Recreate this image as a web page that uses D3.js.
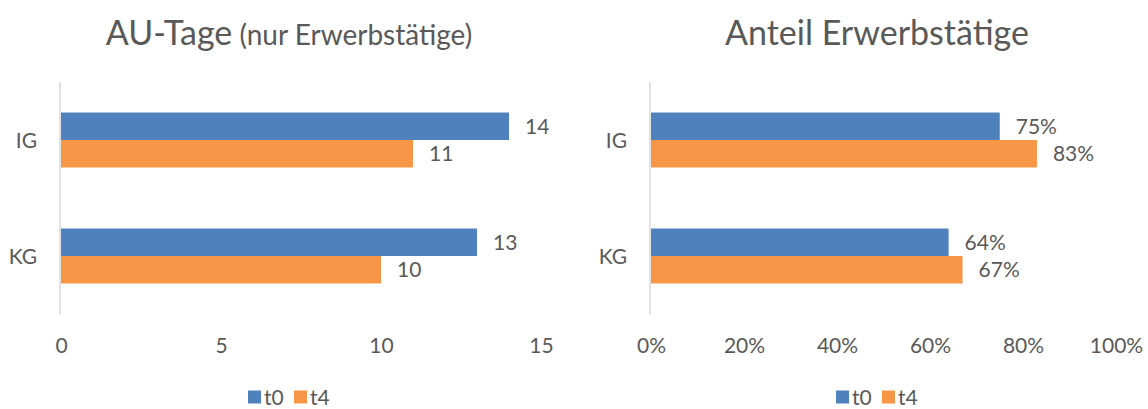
<!DOCTYPE html>
<html>
<head>
<meta charset="utf-8">
<script src="https://cdn.jsdelivr.net/npm/d3@7"></script>
<style>
  html, body { margin: 0; padding: 0; background: #ffffff; }
  svg { display: block; font-family: Lato, "Open Sans", sans-serif; }
</style>
</head>
<body>
<svg id="chart" width="1148" height="409"></svg>
<script>
// ---- data ----
const categories = ["IG", "KG"];
const seriesNames = ["t0", "t4"];
const auTageT0 = [14, 13];
const auTageT4 = [11, 10];
const auTicks = [0, 5, 10, 15];
const erwT0 = [0.75, 0.64];
const erwT4 = [0.83, 0.67];
const erwTicks = [0, 0.2, 0.4, 0.6, 0.8, 1.0];
const seriesColors = ["#4F81BD", "#F79646"];

const textColor = "#595959";
const svg = d3.select("#chart");

function panel(opts) {
  const g = svg.append("g");
  const x = d3.scaleLinear().domain(opts.domain).range(opts.xRange);
  const y0 = d3.scaleBand().domain(categories).range(opts.yRange).paddingInner(0).paddingOuter(0);
  const y1 = d3.scaleBand().domain(seriesNames).range([0, y0.bandwidth()]).paddingInner(0).paddingOuter(1.11);

  // title
  const t = g.append("text")
    .attr("x", opts.titleX).attr("y", 45)
    .attr("text-anchor", "middle")
    .attr("fill", textColor);
  t.append("tspan").attr("font-size", 34).text(opts.title);
  if (opts.subtitle) t.append("tspan").attr("font-size", 28).text(" " + opts.subtitle);

  // bars
  const rows = categories.map((c, i) => ({ c, vals: [opts.s0[i], opts.s1[i]] }));
  const grp = g.selectAll("g.cat").data(rows).join("g")
    .attr("transform", d => `translate(0,${y0(d.c)})`);
  grp.selectAll("rect").data(d => d.vals.map((v, j) => ({ v, s: seriesNames[j], j })))
    .join("rect")
    .attr("x", x(0))
    .attr("y", d => y1(d.s))
    .attr("width", d => x(d.v) - x(0))
    .attr("height", y1.bandwidth())
    .attr("fill", d => seriesColors[d.j]);
  grp.selectAll("text.val").data(d => d.vals.map((v, j) => ({ v, s: seriesNames[j], j })))
    .join("text")
    .attr("class", "val")
    .attr("x", d => x(d.v) + 16)
    .attr("y", d => y1(d.s) + y1.bandwidth() / 2)
    .attr("dy", "0.36em")
    .attr("font-size", 21)
    .attr("fill", textColor)
    .text(d => opts.fmt(d.v));

  // vertical category axis line
  g.append("line")
    .attr("x1", x(0) - 1).attr("x2", x(0) - 1)
    .attr("y1", opts.yRange[0]).attr("y2", opts.yRange[1])
    .attr("stroke", "#D9D9D9").attr("stroke-width", 1.5);

  // category labels
  g.selectAll("text.cat").data(categories).join("text")
    .attr("class", "cat")
    .attr("x", x(0) - 24)
    .attr("y", d => y0(d) + y0.bandwidth() / 2)
    .attr("dy", "0.36em")
    .attr("text-anchor", "end")
    .attr("font-size", 21)
    .attr("fill", textColor)
    .text(d => d);

  // value axis (labels only)
  const axis = d3.axisBottom(x).tickValues(opts.ticks).tickFormat(opts.tickFmt).tickSize(0).tickPadding(0);
  const ag = g.append("g").attr("transform", "translate(0,337)").call(axis);
  ag.select(".domain").remove();
  ag.selectAll("text")
    .attr("font-size", 21)
    .attr("font-family", "Lato, 'Open Sans', sans-serif")
    .attr("fill", textColor)
    .attr("dy", "0.75em");

  // legend
  const lg = g.append("g").attr("transform", `translate(${opts.legendX},397)`);
  const items = lg.selectAll("g").data(seriesNames).join("g")
    .attr("transform", (d, i) => `translate(${i * 46},0)`);
  items.append("rect").attr("x", 0).attr("y", -6.5).attr("width", 13).attr("height", 13)
    .attr("fill", (d, i) => seriesColors[i]);
  items.append("text").attr("x", 16).attr("y", 0).attr("dy", "0.36em")
    .attr("font-size", 21).attr("fill", textColor).text(d => d);
}

panel({
  title: "AU-Tage", subtitle: "(nur Erwerbstätige)", titleX: 289,
  domain: [0, 15], xRange: [61, 541], yRange: [82, 314],
  s0: auTageT0, s1: auTageT4, ticks: auTicks,
  fmt: d3.format("d"), tickFmt: d3.format("d"), legendX: 248
});

panel({
  title: "Anteil Erwerbstätige", titleX: 877,
  domain: [0, 1], xRange: [651, 1116], yRange: [82, 314],
  s0: erwT0, s1: erwT4, ticks: erwTicks,
  fmt: d3.format(".0%"), tickFmt: d3.format(".0%"), legendX: 836
});
</script>
</body>
</html>
